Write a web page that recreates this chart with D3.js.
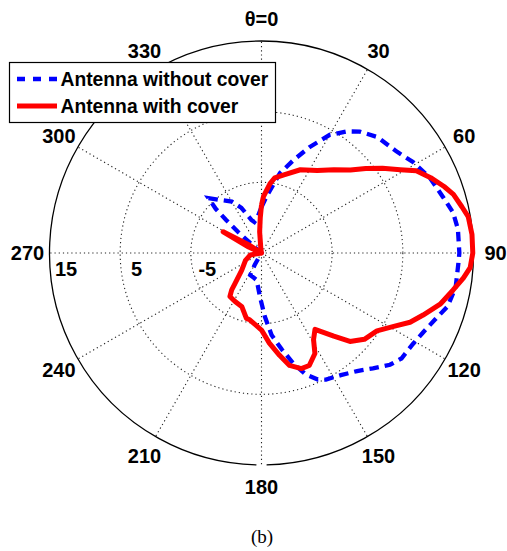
<!DOCTYPE html>
<html><head><meta charset="utf-8">
<script src="https://cdn.jsdelivr.net/npm/d3@7"></script>
<style>body{margin:0;background:#fff}text{font-family:"Liberation Sans",Arial,sans-serif}</style>
</head><body>
<svg id="chart" width="507" height="551"></svg>
<script>
// ---- data ----
const angleTicks = [0, 30, 60, 90, 120, 150, 180, 210, 240, 270, 300, 330];
const angleLabels = ["θ=0", "30", "60", "90", "120", "150", "180", "210", "240", "270", "300", "330"];
const radialTicks = [-5, 5, 15];
const radialLabels = ["-5", "5", "15"];
const seriesNames = ["Antenna without cover", "Antenna with cover"];
const seriesColors = ["#0000ff", "#ff0000"];

const anglesWithout = [0,5,13,19,24.5,30,35,39,45,53,59,66,73,78,83,90,93,100,106,111,116,121,127,131,136,141,147,153,156,160,164,168,173,177,182,190,200,207,210,220,300,310,312,313,314,316,321,330,336,343,347,353,360];
const gainWithout = [-8.5,-7.0,-3.4,-1.1,1.5,4.3,6.0,7.1,8.2,8.9,10.0,11.1,11.9,12.7,13.0,13.0,12.9,12.9,12.4,11.3,10.5,10.0,9.8,9.1,7.7,6.5,5.6,5.1,4.6,3.3,1.2,-1.0,-3.3,-6.0,-8.8,-11.1,-11.4,-11.5,-13.1,-15,-15,-14,-10.5,-8.2,-6.0,-4.2,-5.3,-6.6,-8.0,-10.1,-10.5,-10.0,-8.5];

const anglesWith = [0,2,7,10,16,25,34,41,47,51,55,59,62,66,70,73,77,80,85,90,94,97,101,106,111,115,119,124,130,135,139,145,149,152,157,161,166,170,175,180,190,193,200,209,216,219,221,229,245,260,270,295,299,303,330,350,355,358,360];
const gainWith = [-8.2,-7.0,-5.1,-4.2,-3.5,-2.0,-0.9,0.6,2.2,4.0,5.9,7.9,9.8,11.2,12.5,13.4,14.1,14.7,14.9,14.9,14.6,13.8,12.6,11.3,9.5,8.2,6.4,4.7,4.0,2.7,0.6,-1.8,-0.7,1.1,2.3,2.3,1.4,-0.3,-2.2,-4.1,-5.4,-5.5,-6.9,-7.2,-7.4,-8.3,-9.3,-11.3,-12.5,-13.4,-15,-13.0,-8.8,-13.0,-15,-14.5,-12,-10,-8.2];

// ---- layout ----
const cx = 261.5, cy = 253, R = 212;
const svg = d3.select("#chart");
const g = svg.append("g").attr("transform", `translate(${cx},${cy})`);
const rScale = d3.scaleLinear().domain([-15, 15]).range([0, R]).clamp(true);
const aScale = d3.scaleLinear().domain([0, 360]).range([0, 2 * Math.PI]);
const px = (deg, rad) => rad * Math.sin(aScale(deg));
const py = (deg, rad) => -rad * Math.cos(aScale(deg));

// inner dotted circles
g.selectAll("circle.grid").data(radialTicks.slice(0, -1)).enter().append("circle")
  .attr("class", "grid").attr("r", d => rScale(d))
  .attr("fill", "none").attr("stroke", "#222").attr("stroke-width", 1.1)
  .attr("stroke-dasharray", "1.2,3");

// spokes
g.selectAll("line.spoke").data(angleTicks).enter().append("line")
  .attr("x1", 0).attr("y1", 0)
  .attr("x2", d => px(d, R)).attr("y2", d => py(d, R))
  .attr("stroke", "#222").attr("stroke-width", 1.1).attr("stroke-dasharray", "1.2,3");

// outer circle (small gap at bottom as in the reference)
const outer = d3.path();
const gap = 0.024;
outer.arc(0, 0, rScale(15), Math.PI / 2 + gap, Math.PI / 2 - gap + 2 * Math.PI);
g.append("path").attr("d", outer.toString()).attr("fill", "none")
  .attr("stroke", "#000").attr("stroke-width", 1.3);

// angle labels
g.selectAll("text.alab").data(angleTicks).enter().append("text")
  .attr("x", d => px(d, 234)).attr("y", d => py(d, 234))
  .attr("dy", "0.36em").attr("text-anchor", "middle")
  .attr("font-size", 20).attr("font-weight", "bold")
  .text((d, i) => angleLabels[i]);

// radial labels
g.selectAll("text.rlab").data(radialTicks).enter().append("text")
  .attr("x", d => -rScale(d) + 16.5).attr("y", 16)
  .attr("dy", "0.36em").attr("text-anchor", "middle")
  .attr("font-size", 20).attr("font-weight", "bold")
  .text((d, i) => radialLabels[i]);

// curves
const line = d3.lineRadial().angle(d => aScale(d[0])).radius(d => rScale(d[1])).curve(d3.curveLinear);
const dataWithout = anglesWithout.map((a, i) => [a, gainWithout[i]]);
const dataWith = anglesWith.map((a, i) => [a, gainWith[i]]);
g.append("path").datum(dataWithout).attr("d", line).attr("fill", "none")
  .attr("stroke", seriesColors[0]).attr("stroke-width", 4.3).attr("stroke-dasharray", "9.5,6");
g.append("path").datum(dataWith).attr("d", line).attr("fill", "none")
  .attr("stroke", seriesColors[1]).attr("stroke-width", 5).attr("stroke-linejoin", "round");

// legend
const lg = svg.append("g");
lg.append("rect").attr("x", 9.5).attr("y", 62.5).attr("width", 266).attr("height", 60)
  .attr("fill", "#fff").attr("stroke", "#000").attr("stroke-width", 1.2);
const rowY = [79, 106];
seriesNames.forEach((name, i) => {
  lg.append("line").attr("x1", 17).attr("x2", 57).attr("y1", rowY[i]).attr("y2", rowY[i])
    .attr("stroke", seriesColors[i]).attr("stroke-width", i === 0 ? 4.3 : 5)
    .attr("stroke-dasharray", i === 0 ? "8,8" : null);
  lg.append("text").attr("x", 60.5).attr("y", rowY[i]).attr("dy", "0.36em")
    .attr("font-size", 19.3).attr("font-weight", "bold").text(name);
});

// caption
svg.append("text").attr("x", 262).attr("y", 543).attr("text-anchor", "middle")
  .style("font-family", "'Liberation Serif','Times New Roman',serif")
  .attr("font-size", 19).text("(b)");
</script>
</body></html>
